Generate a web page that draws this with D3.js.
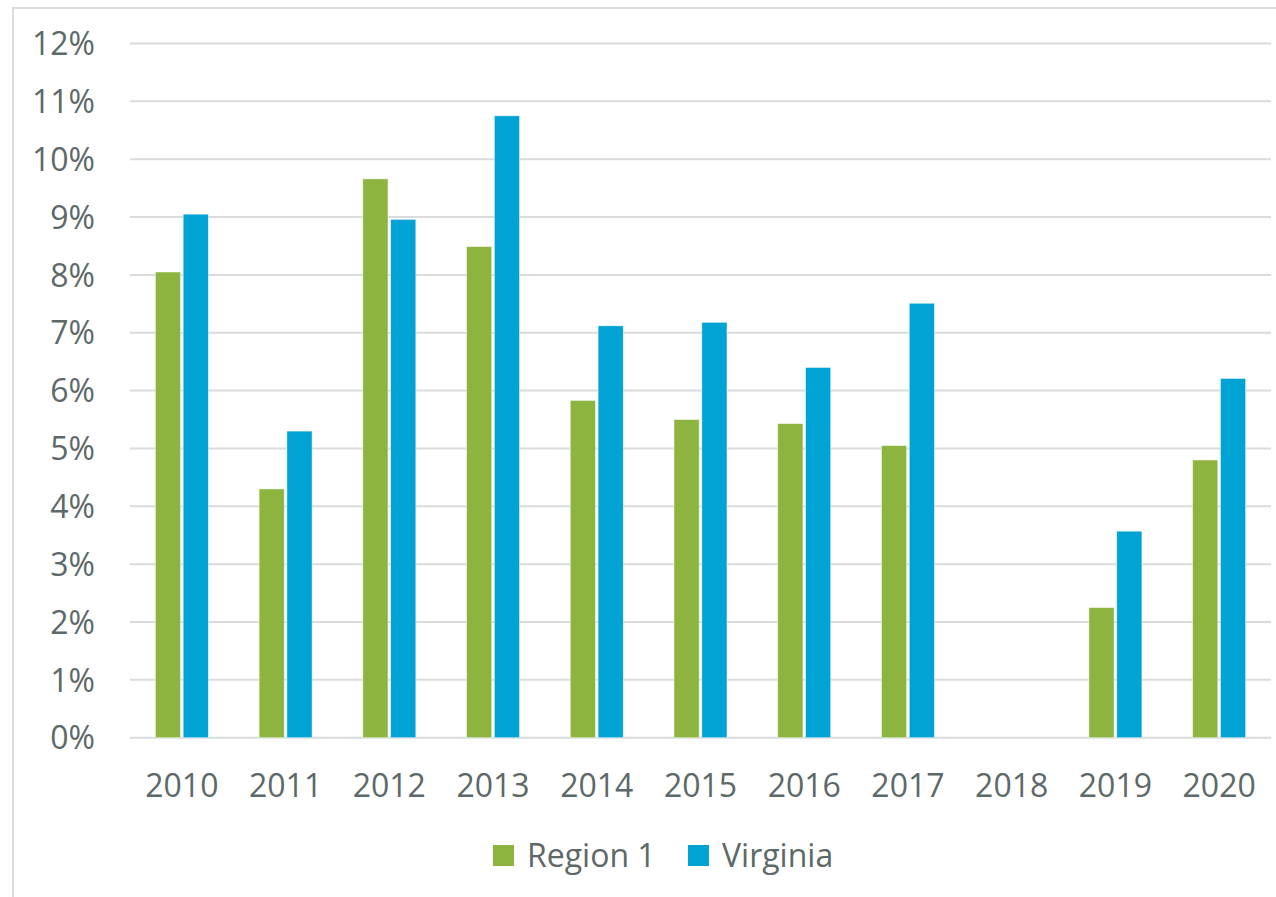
<!DOCTYPE html>
<html>
<head>
<meta charset="utf-8">
<script src="https://cdn.jsdelivr.net/npm/d3@7"></script>
<style>
  html, body { margin: 0; padding: 0; background: #fff; }
  svg { display: block; }
</style>
</head>
<body>
<svg id="chart" width="1276" height="897"></svg>
<script>
const years = ["2010","2011","2012","2013","2014","2015","2016","2017","2018","2019","2020"];
const seriesNames = ["Region 1", "Virginia"];
const region1 = [8.05, 4.30, 9.66, 8.49, 5.83, 5.50, 5.43, 5.05, null, 2.25, 4.80];
const virginia = [9.05, 5.30, 8.96, 10.75, 7.12, 7.18, 6.40, 7.51, null, 3.57, 6.21];
const yTicks = [0,1,2,3,4,5,6,7,8,9,10,11,12];
const colors = ["#8db43e", "#00a3d4"];

const svg = d3.select("#chart");
const textColor = "#5d6868";
const font = "'Open Sans', 'Noto Sans', sans-serif";
const fontSize = "32px";

// chart border
svg.append("rect").attr("x", 13).attr("y", 8).attr("width", 1276).attr("height", 1000)
  .attr("fill", "none").attr("stroke", "#d9dcdc").attr("stroke-width", 2);

const plotLeft = 130, plotRight = 1271, plotTop = 43.5, plotBottom = 737.7;
const x = d3.scaleBand().domain(years).range([plotLeft, plotRight]).padding(0);
const y = d3.scaleLinear().domain([0, 12]).range([plotBottom, plotTop]);
const groupW = 53;
const xs = d3.scaleBand().domain(seriesNames).range([0, groupW]).paddingInner(5/53);

// gridlines
svg.append("g").selectAll("line").data(yTicks).join("line")
  .attr("x1", plotLeft).attr("x2", plotRight)
  .attr("y1", d => y(d)).attr("y2", d => y(d))
  .attr("stroke", "#d9dcdc").attr("stroke-width", 2);

// y axis labels
const yAxis = d3.axisLeft(y).tickValues(yTicks).tickFormat(d => d + "%").tickSize(0).tickPadding(0);
const gy = svg.append("g").attr("transform", `translate(95,0)`).call(yAxis);
gy.select(".domain").remove();
gy.selectAll("text").attr("fill", textColor).style("font-family", font).style("font-size", fontSize).attr("dy", "0.35em");

// x axis labels
const xAxis = d3.axisBottom(x).tickSize(0).tickPadding(0);
const gx = svg.append("g").attr("transform", `translate(0,${plotBottom})`).call(xAxis);
gx.select(".domain").remove();
gx.selectAll("text").attr("fill", textColor).style("font-family", font).style("font-size", fontSize)
  .attr("y", 59).attr("dy", 0);

// bars
const data = years.map((yr, i) => ({ year: yr, vals: [
  { s: seriesNames[0], v: region1[i] },
  { s: seriesNames[1], v: virginia[i] }
]}));
const groups = svg.append("g").selectAll("g").data(data).join("g")
  .attr("transform", d => `translate(${x(d.year) + x.bandwidth()/2 - groupW/2},0)`);
groups.selectAll("rect").data(d => d.vals.filter(v => v.v != null)).join("rect")
  .attr("x", d => xs(d.s))
  .attr("width", xs.bandwidth())
  .attr("y", d => y(d.v))
  .attr("height", d => y(0) - y(d.v))
  .attr("fill", d => colors[seriesNames.indexOf(d.s)])
  .attr("stroke", "rgba(255,255,255,0.6)").attr("stroke-width", 0.8);

// legend
const legendItems = [
  { name: seriesNames[0], color: colors[0], x: 493 },
  { name: seriesNames[1], color: colors[1], x: 688 }
];
const lg = svg.append("g").selectAll("g").data(legendItems).join("g")
  .attr("transform", d => `translate(${d.x},845)`);
lg.append("rect").attr("width", 21).attr("height", 21).attr("fill", d => d.color);
lg.append("text").attr("x", 34).attr("y", 22).text(d => d.name)
  .attr("fill", textColor).style("font-family", font).style("font-size", fontSize);
</script>
</body>
</html>
